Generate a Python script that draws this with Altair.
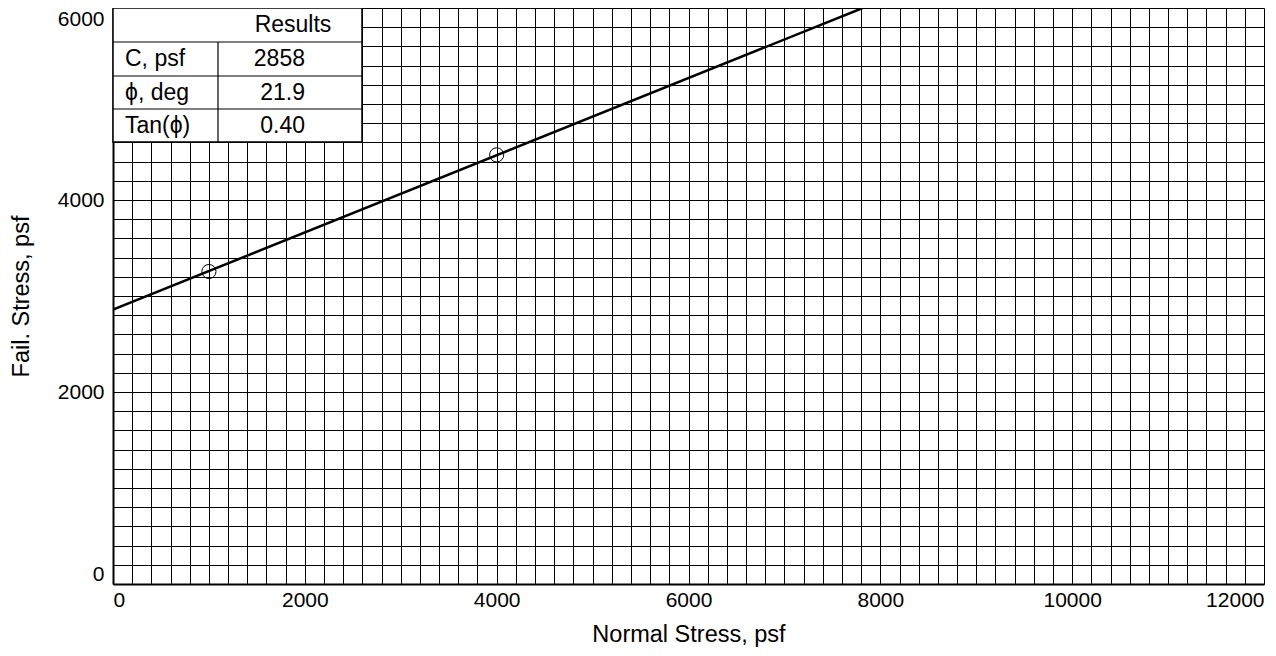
import altair as alt
import pandas as pd

# Data
pts_x = [1000, 4000]
pts_y = [3255, 4470]
line_x = [0, 7816]
line_y = [2858, 6000]
table_labels = ["C, psf", "\u03d5, deg", "Tan(\u03d5)"]
table_values = ["2858", "21.9", "0.40"]
x_ticks = list(range(0, 12001, 200))
y_ticks = list(range(0, 6001, 200))

FONT = "Liberation Sans"
W, H = 1151, 576

pts = pd.DataFrame({"x": pts_x, "y": pts_y})
ln = pd.DataFrame({"x": line_x, "y": line_y})

xscale = alt.Scale(domain=[0, 12000], nice=False, zero=False)
yscale = alt.Scale(domain=[0, 6000], nice=False, zero=False)

xaxis = alt.Axis(values=x_ticks, tickCount=200, grid=True, gridColor="black", gridOpacity=1, gridWidth=1,
                 ticks=False, tickSize=0, labelFlush=True, labelOverlap=False,
                 labelExpr="datum.value % 2000 == 0 ? datum.label : ''",
                 format="d", labelFont=FONT, labelFontSize=21, labelColor="black",
                 labelPadding=5, domainColor="black", domainWidth=2,
                 title="Normal Stress, psf", titleFont=FONT, titleFontSize=23.5,
                 titleFontWeight="normal", titleColor="black", titlePadding=12)
yaxis = alt.Axis(values=y_ticks, tickCount=200, grid=True, gridColor="black", gridOpacity=1, gridWidth=1,
                 ticks=False, tickSize=0, labelFlush=True, labelOverlap=False,
                 labelExpr="datum.value % 2000 == 0 ? datum.label : ''",
                 format="d", labelFont=FONT, labelFontSize=21, labelColor="black",
                 labelPadding=9, domainColor="black", domainWidth=2,
                 title="Fail. Stress, psf", titleFont=FONT, titleFontSize=23.5,
                 titleFontWeight="normal", titleColor="black", titlePadding=24)

line = alt.Chart(ln).mark_line(color="black", strokeWidth=2.5, clip=True).encode(
    x=alt.X("x:Q", scale=xscale, axis=xaxis),
    y=alt.Y("y:Q", scale=yscale, axis=yaxis),
)
points = alt.Chart(pts).mark_point(shape="circle", filled=False, color="black",
                                   size=200, strokeWidth=1, opacity=1).encode(
    x=alt.X("x:Q", scale=xscale),
    y=alt.Y("y:Q", scale=yscale),
)

# Results table overlay (annotation, pixel placement)
TW, C1 = 249, 105
row_edges = [0, 34, 68, 101, 134]
one = pd.DataFrame({"a": [0]})
box = alt.Chart(one).mark_rect(fill="white", stroke="black", strokeWidth=1.5).encode(
    x=alt.value(0), x2=alt.value(TW), y=alt.value(0), y2=alt.value(row_edges[-1]))
hrules = [alt.Chart(one).mark_rule(color="black", strokeWidth=1.2).encode(
    x=alt.value(0), x2=alt.value(TW), y=alt.value(r)) for r in row_edges[1:4]]
vrule = alt.Chart(one).mark_rule(color="black", strokeWidth=1.2).encode(
    x=alt.value(C1), y=alt.value(row_edges[1]), y2=alt.value(row_edges[-1]))
texts = [alt.Chart(one).mark_text(
    text="Results", font=FONT, fontSize=23, color="black", align="center", baseline="middle").encode(
    x=alt.value((C1 + TW) / 2 + 3), y=alt.value(row_edges[0] + 17))]
for i, (lab, val) in enumerate(zip(table_labels, table_values)):
    yc = (row_edges[i + 1] + row_edges[i + 2]) / 2
    texts.append(alt.Chart(one).mark_text(
        text=lab, font=FONT, fontSize=23, color="black", align="left", baseline="middle").encode(
        x=alt.value(12), y=alt.value(yc)))
    texts.append(alt.Chart(one).mark_text(
        text=val, font=FONT, fontSize=23, color="black", align="right", baseline="middle").encode(
        x=alt.value(192), y=alt.value(yc)))

chart = alt.layer(line, points, box, *hrules, vrule, *texts).properties(
    width=W, height=H,
    autosize=alt.AutoSizeParams(type="none"),
    padding={"left": 105, "top": 0, "right": 3, "bottom": 64},
).configure_view(stroke="black", strokeWidth=2).configure(background="white")

chart.save("out.html", embed_options={"renderer": "svg", "actions": False})
